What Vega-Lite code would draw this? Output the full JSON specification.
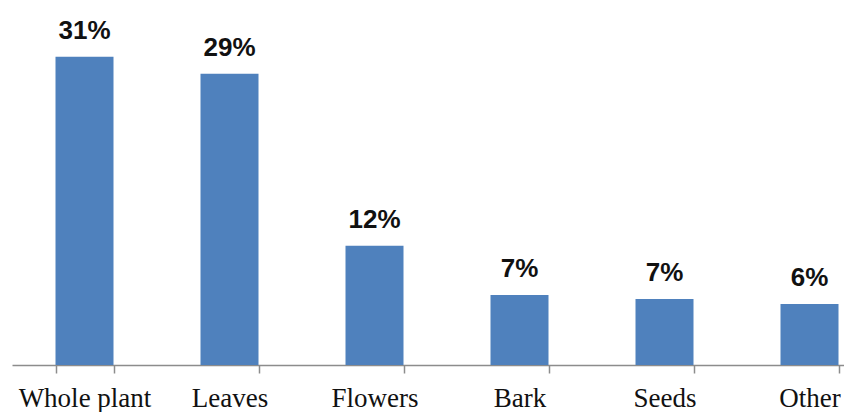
{
  "$schema": "https://vega.github.io/schema/vega-lite/v6.json",
  "autosize": {"type": "none"},
  "width": 832,
  "height": 348,
  "padding": {"left": 12, "top": 17, "right": 0, "bottom": 47},
  "background": "white",
  "config": {"view": {"stroke": null}},
  "data": {
    "values": [
      {"part": "Whole plant", "share": 0.31},
      {"part": "Leaves", "share": 0.293},
      {"part": "Flowers", "share": 0.12},
      {"part": "Bark", "share": 0.0705},
      {"part": "Seeds", "share": 0.0664},
      {"part": "Other", "share": 0.0614}
    ]
  },
  "encoding": {
    "x": {
      "field": "part",
      "type": "nominal",
      "sort": null,
      "scale": {"range": [0, 870], "paddingInner": 0.6, "paddingOuter": 0.3},
      "axis": {
        "title": null,
        "labelAngle": 0,
        "domainColor": "#8c8c8c",
        "domainWidth": 1.5,
        "tickColor": "#8c8c8c",
        "tickWidth": 1.5,
        "tickSize": 8,
        "tickBand": "extent",
        "labelFont": "Liberation Serif",
        "labelFontSize": 27,
        "labelColor": "#111111",
        "labelPadding": 12
      }
    },
    "y": {
      "field": "share",
      "type": "quantitative",
      "scale": {"domain": [0, 0.35]},
      "axis": null
    }
  },
  "layer": [
    {"mark": {"type": "bar", "color": "#4f81bd"}},
    {
      "mark": {
        "type": "text",
        "baseline": "alphabetic",
        "dy": -18,
        "font": "Liberation Sans",
        "fontWeight": "bold",
        "fontSize": 26,
        "color": "#111111"
      },
      "encoding": {"text": {"field": "share", "type": "quantitative", "format": ".0%"}}
    }
  ]
}
